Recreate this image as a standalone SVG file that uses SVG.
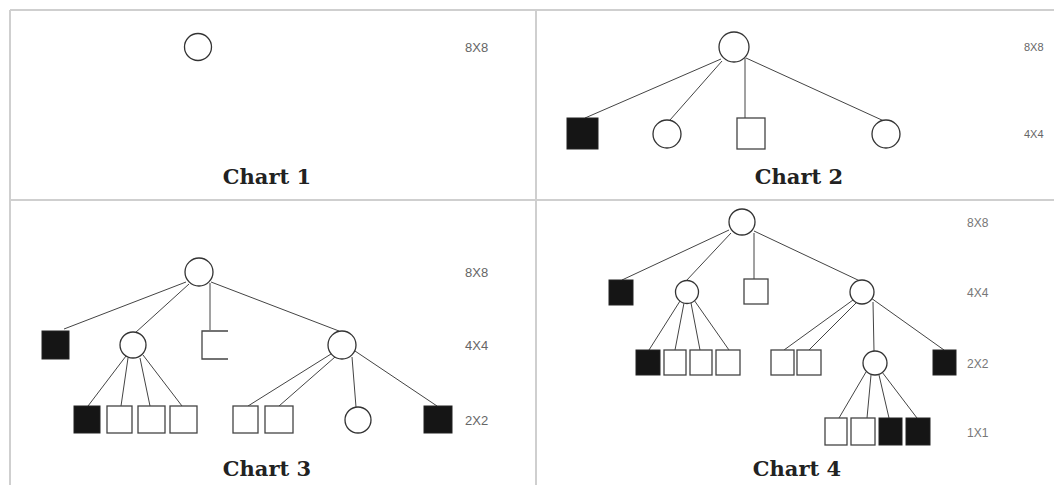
<svg xmlns="http://www.w3.org/2000/svg" width="1054" height="485" viewBox="0 0 1054 485">
<style>
.frame{stroke:#cfcfcf;stroke-width:2;fill:none}
.c{fill:#fff;stroke:#333;stroke-width:1.3}
.w{fill:#fff;stroke:#444;stroke-width:1.3}
.b{fill:#151515;stroke:#222;stroke-width:1}
.e{stroke:#444;stroke-width:1;fill:none}
.lv{font-family:"Liberation Sans",Arial,sans-serif;font-size:13px;fill:#666}
.lv2{font-family:"Liberation Sans",Arial,sans-serif;font-size:11px;fill:#666}
.lv4{font-family:"Liberation Sans",Arial,sans-serif;font-size:12px;fill:#777}
.t{font-family:"DejaVu Serif","Liberation Serif",serif;font-weight:bold;font-size:21px;fill:#222;text-anchor:middle}
</style>
<rect width="1054" height="485" fill="#fff"/>
<g id="frame">
<line class="frame" x1="10" y1="10" x2="1054" y2="10"/>
<line class="frame" x1="10" y1="10" x2="10" y2="485"/>
<line class="frame" x1="536" y1="10" x2="536" y2="485"/>
<line class="frame" x1="10" y1="200" x2="1054" y2="200"/>
</g>

<g id="connectors">
<!-- chart 2 -->
<path class="e" d="M721,59 L585,118 M722,61 L670,120 M745,58 V118 M746,58 L884,121"/>
<!-- chart 3 -->
<path class="e" d="M186,282 L64,329 M189,284 L135,333 M210,283 V330 M211,282 L339,331"/>
<path class="e" d="M126,356 L88,406 M128,358 L121,406 M140,358 L150,406 M143,355 L182,406"/>
<path class="e" d="M331,354 L248,406 M335,357 L279,406 M352,357 L356,407 M355,351 L437,406"/>
<!-- chart 4 -->
<path class="e" d="M729,230 L622,280 M731,233 L686,281 M754,233 V279 M754,231 L860,281"/>
<path class="e" d="M680,301 L649,350 M684,303 L675,350 M691,303 L700,350 M694,300 L729,350"/>
<path class="e" d="M853,300 L784,350 M856,303 L809,350 M873,302 L874,351 M871,298 L944,350"/>
<path class="e" d="M866,372 L839,418 M871,375 L867,418 M879,375 L889,418 M882,372 L917,418"/>
</g>

<g id="chart1">
<circle class="c" cx="198" cy="47" r="13.5"/>
<text class="lv" x="465" y="52">8X8</text>
<text class="t" x="267" y="184">Chart 1</text>
</g>

<g id="chart2">
<circle class="c" cx="734" cy="47" r="15"/>
<rect class="b" x="567" y="118" width="31" height="31"/>
<circle class="c" cx="667" cy="134" r="14"/>
<rect class="w" x="737" y="118" width="28" height="31"/>
<circle class="c" cx="886" cy="134" r="14"/>
<text class="lv2" x="1024" y="51">8X8</text>
<text class="lv2" x="1024" y="138">4X4</text>
<text class="t" x="799" y="184">Chart 2</text>
</g>

<g id="chart3">
<circle class="c" cx="199" cy="272" r="14"/>
<rect class="b" x="42" y="331" width="27" height="28"/>
<circle class="c" cx="133" cy="345" r="13"/>
<path class="w" d="M228,331 H202 V359 H228"/>
<circle class="c" cx="342" cy="345" r="14"/>
<rect class="b" x="74" y="406" width="26" height="27"/>
<rect class="w" x="107" y="406" width="25" height="27"/>
<rect class="w" x="138" y="406" width="27" height="27"/>
<rect class="w" x="170" y="406" width="27" height="27"/>
<rect class="w" x="233" y="406" width="25" height="27"/>
<rect class="w" x="265" y="406" width="28" height="27"/>
<circle class="c" cx="358" cy="420" r="13"/>
<rect class="b" x="424" y="406" width="28" height="27"/>
<text class="lv" x="465" y="277">8X8</text>
<text class="lv" x="465" y="350">4X4</text>
<text class="lv" x="465" y="425">2X2</text>
<text class="t" x="267" y="476">Chart 3</text>
</g>

<g id="chart4">
<circle class="c" cx="742" cy="222" r="13"/>
<rect class="b" x="609" y="280" width="24" height="25"/>
<circle class="c" cx="687" cy="292" r="11.5"/>
<rect class="w" x="744" y="279" width="24" height="25"/>
<circle class="c" cx="862" cy="292" r="12"/>
<rect class="b" x="636" y="350" width="24" height="25"/>
<rect class="w" x="664" y="350" width="22" height="25"/>
<rect class="w" x="690" y="350" width="22" height="25"/>
<rect class="w" x="716" y="350" width="24" height="25"/>
<rect class="w" x="771" y="350" width="23" height="25"/>
<rect class="w" x="797" y="350" width="24" height="25"/>
<circle class="c" cx="875" cy="363" r="12"/>
<rect class="b" x="933" y="350" width="23" height="25"/>
<rect class="w" x="825" y="418" width="22" height="27"/>
<rect class="w" x="851" y="418" width="24" height="27"/>
<rect class="b" x="879" y="418" width="23" height="27"/>
<rect class="b" x="906" y="418" width="24" height="27"/>
<text class="lv4" x="967" y="227">8X8</text>
<text class="lv4" x="967" y="297">4X4</text>
<text class="lv4" x="967" y="368">2X2</text>
<text class="lv4" x="967" y="437">1X1</text>
<text class="t" x="797" y="476">Chart 4</text>
</g>
</svg>
